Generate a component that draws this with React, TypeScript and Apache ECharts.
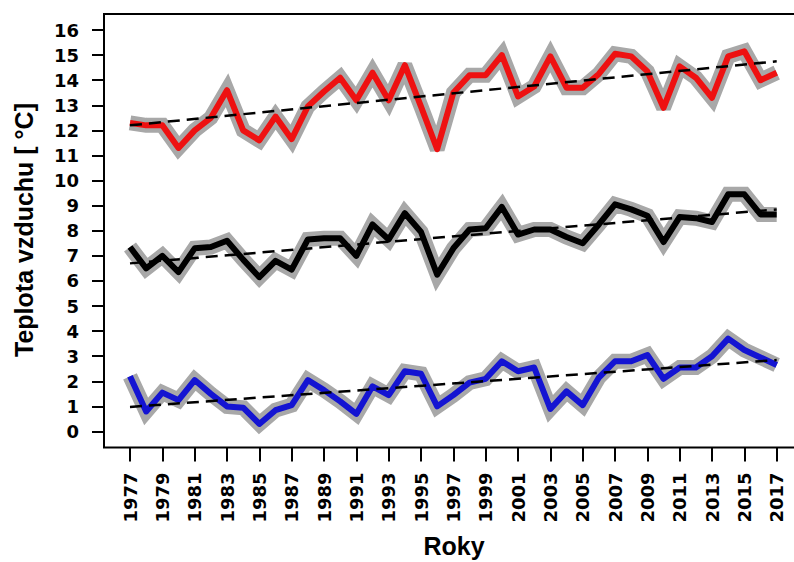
import React, { useEffect, useRef } from "react";
import * as echarts from "echarts";

const years: string[] = [];
for (let y = 1977; y <= 2017; y++) years.push(String(y));

const redValues = [
  12.3, 12.2, 12.2, 11.3, 12.0, 12.5, 13.6, 12.0, 11.6, 12.55,
  11.65, 12.95, 13.55, 14.1, 13.2, 14.3, 13.2, 14.6, 12.95, 11.25,
  13.5, 14.2, 14.2, 15.0, 13.35, 13.75, 14.95, 13.7, 13.7, 14.25,
  15.05, 14.95, 14.35, 12.9, 14.55, 14.1, 13.3, 14.95, 15.15, 14.0,
  14.3,
];
const blackValues = [
  7.35, 6.5, 7.0, 6.35, 7.3, 7.35, 7.6, 6.85, 6.15, 6.8,
  6.45, 7.65, 7.7, 7.7, 7.0, 8.25, 7.65, 8.7, 7.95, 6.25,
  7.3, 8.05, 8.1, 8.95, 7.85, 8.05, 8.05, 7.75, 7.5, 8.25,
  9.05, 8.85, 8.6, 7.55, 8.55, 8.5, 8.35, 9.45, 9.45, 8.65,
  8.65,
];
const blueValues = [
  2.2, 0.8, 1.55, 1.25, 2.05, 1.5, 1.0, 0.95, 0.3, 0.85,
  1.05, 2.05, 1.65, 1.2, 0.7, 1.8, 1.45, 2.4, 2.3, 1.0,
  1.45, 1.95, 2.1, 2.8, 2.4, 2.55, 0.9, 1.6, 1.05, 2.15,
  2.8, 2.8, 3.05, 2.1, 2.55, 2.55, 3.0, 3.7, 3.25, 2.95,
  2.65,
];
// linear trend: value at 1977, value at 2017
const redTrend = [12.2, 14.75];
const blackTrend = [6.7, 8.85];
const blueTrend = [0.98, 2.85];

const yTitle = "Teplota vzduchu [ °C]";
const xTitle = "Roky";

const TICK_FONT = "'DejaVu Sans', sans-serif";
const TITLE_FONT = "'Liberation Sans', Arial, sans-serif";

function seriesFor(name: string, values: number[], trend: number[], color: string) {
  const last = years.length - 1;
  return [
    {
      name: name + "-band",
      type: "line",
      data: values,
      symbol: "none",
      silent: true,
      z: 1,
      lineStyle: { color: "#a8a8a8", width: 15, join: "miter", miterLimit: 2.5 },
    },
    {
      name,
      type: "line",
      data: values,
      symbol: "none",
      silent: true,
      z: 2,
      lineStyle: { color, width: 6, join: "round" },
    },
    {
      name: name + "-trend",
      type: "line",
      data: [
        [0, trend[0]],
        [last, trend[1]],
      ],
      symbol: "none",
      silent: true,
      z: 3,
      lineStyle: { color: "#000", width: 2.5, type: [12, 7] },
    },
  ];
}

export default function App() {
  const ref = useRef<HTMLDivElement>(null);
  useEffect(() => {
    if (!ref.current) return;
    const chart = echarts.init(ref.current, null, { renderer: "svg" });
    chart.setOption({
      animation: false,
      backgroundColor: "#ffffff",
      grid: { left: 130, top: 30, width: 646.7, height: 401.5 },
      xAxis: {
        type: "category",
        data: years,
        boundaryGap: false,
        offset: 16,
        axisLine: { show: false, onZero: false },
        axisTick: { show: true, interval: 1, length: 14, lineStyle: { color: "#000", width: 2 } },
        axisLabel: {
          interval: 1,
          rotate: 90,
          margin: 25,
          color: "#000",
          fontFamily: TICK_FONT,
          fontWeight: "bold",
          fontSize: 18,
        },
        splitLine: { show: false },
      },
      yAxis: {
        type: "value",
        min: 0,
        max: 16,
        interval: 1,
        offset: 26,
        axisLine: { show: false },
        axisTick: { show: true, length: 12, lineStyle: { color: "#000", width: 2 } },
        axisLabel: {
          margin: 25,
          color: "#000",
          fontFamily: TICK_FONT,
          fontWeight: "bold",
          fontSize: 18,
        },
        splitLine: { show: false },
      },
      graphic: [
        {
          type: "rect",
          z: 100,
          silent: true,
          shape: { x: 104, y: 14, width: 699, height: 433.5 },
          style: { fill: "none", stroke: "#000", lineWidth: 2 },
        },
        {
          type: "text",
          x: 24,
          y: 230,
          rotation: Math.PI / 2,
          style: {
            text: yTitle,
            fill: "#000",
            font: `bold 25px ${TITLE_FONT}`,
            textAlign: "center",
            textVerticalAlign: "middle",
          },
        },
        {
          type: "text",
          x: 454,
          y: 546,
          style: {
            text: xTitle,
            fill: "#000",
            font: `bold 25px ${TITLE_FONT}`,
            textAlign: "center",
            textVerticalAlign: "middle",
          },
        },
      ],
      series: [
        ...seriesFor("red", redValues, redTrend, "#ee1111"),
        ...seriesFor("black", blackValues, blackTrend, "#000000"),
        ...seriesFor("blue", blueValues, blueTrend, "#1414d2"),
      ],
    });
    return () => chart.dispose();
  }, []);
  return (
    <div
      ref={ref}
      style={{ position: "fixed", left: 0, top: 0, width: 794, height: 562, background: "#fff" }}
    />
  );
}
